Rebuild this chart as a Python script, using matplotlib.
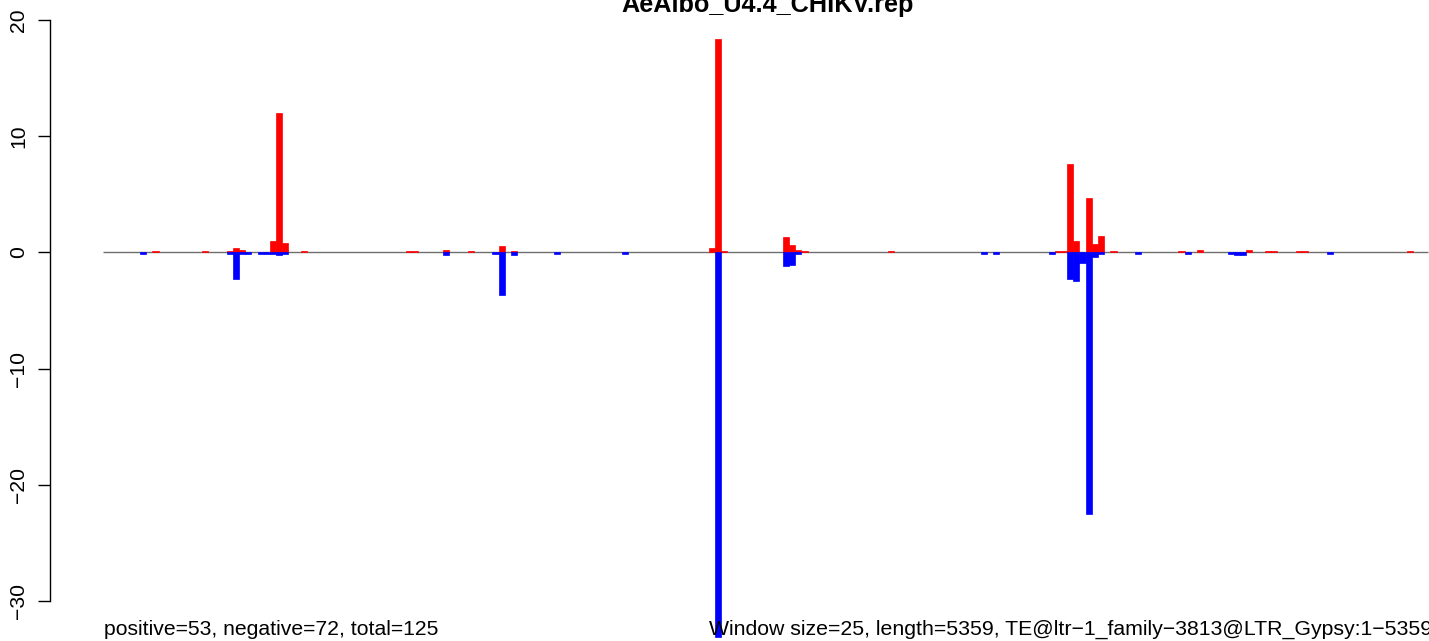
import matplotlib
matplotlib.use("Agg")
import matplotlib.pyplot as plt
import numpy as np

plt.rcParams['font.family'] = ['Liberation Sans', 'DejaVu Sans']

# ---- data ----
title = "AeAlbo_U4.4_CHIKV.rep"
window_size = 25
seq_length = 5359
n_windows = 215

pos_windows = [8, 16, 20, 21, 22, 27, 28, 29, 32, 49, 50, 55, 59, 64, 66,
               98, 99, 100, 110, 111, 112, 113, 127, 154, 155, 156, 157, 159,
               160, 161, 163, 174, 177, 185, 188, 189, 193, 194, 211]
pos_values = [0.11, 0.11, 0.15, 0.37, 0.2, 0.98, 12.0, 0.8, 0.11, 0.11, 0.11,
              0.17, 0.12, 0.52, 0.12, 0.35, 18.33, 0.1, 1.29, 0.6, 0.2, 0.1,
              0.11, 0.11, 0.15, 7.57, 0.95, 4.65, 0.69, 1.38, 0.11, 0.11, 0.17,
              0.2, 0.11, 0.11, 0.11, 0.11, 0.11]

neg_windows = [6, 20, 21, 22, 23, 25, 26, 27, 28, 29, 55, 63, 64, 66, 73, 84,
               99, 110, 111, 112, 142, 144, 153, 156, 157, 158, 159, 160, 161,
               167, 175, 182, 183, 184, 198]
neg_values = [-0.11, -0.11, -2.27, -0.11, -0.11, -0.11, -0.11, -0.11, -0.2,
              -0.11, -0.26, -0.11, -3.7, -0.2, -0.11, -0.11, -33.1, -1.18,
              -1.09, -0.1, -0.11, -0.11, -0.14, -2.3, -2.47, -0.92, -22.5,
              -0.4, -0.14, -0.11, -0.11, -0.17, -0.26, -0.26, -0.11]

yticks = [-30, -20, -10, 0, 10, 20]
footer_left = "positive=53, negative=72, total=125"
footer_right = ("Window size=25, length=5359, "
                "TE@ltr\u22121_family\u22123813@LTR_Gypsy:1\u22125359")

# ---- figure ----
W, H = 1429, 641
fig = plt.figure(figsize=(W / 100, H / 100), dpi=100)

# layout in pixels (R-like 4% padding, plot region partly outside the image)
xpad = 0.04 * seq_length
xlim = (-xpad, seq_length + xpad)
ymin = min(neg_values)
ymax = max(pos_values)
ypad = 0.04 * (ymax - ymin)
ylim = (ymin - ypad, ymax + ypad)

px_per_x = 0.2472
px_per_y = 11.62
zero_x_px = 103.0
zero_y_px = 252.4
left_px = zero_x_px - (0 - xlim[0]) * px_per_x
right_px = zero_x_px + (xlim[1]) * px_per_x
top_px = zero_y_px - ylim[1] * px_per_y
bot_px = zero_y_px - ylim[0] * px_per_y

ax = fig.add_axes([left_px / W, 1 - bot_px / H,
                   (right_px - left_px) / W, (bot_px - top_px) / H])
ax.set_xlim(*xlim)
ax.set_ylim(*ylim)
ax.patch.set_alpha(0)

pos_full = np.zeros(n_windows)
neg_full = np.zeros(n_windows)
pos_full[pos_windows] = pos_values
neg_full[neg_windows] = neg_values
starts = np.arange(n_windows) * window_size

ax.plot([0, seq_length], [0, 0], color='#6e6e6e', lw=1.0, zorder=1,
        solid_capstyle='butt')
pos_mask = pos_full != 0
neg_mask = neg_full != 0
ax.bar(starts[pos_mask], pos_full[pos_mask], width=window_size, align='edge',
       color='#ff0000', edgecolor='#ff0000', linewidth=0.5, zorder=3,
       clip_on=False)
ax.bar(starts[neg_mask], neg_full[neg_mask], width=window_size, align='edge',
       color='#0000ff', edgecolor='#0000ff', linewidth=0.5, zorder=3,
       clip_on=False)

for s in ['top', 'right', 'bottom']:
    ax.spines[s].set_visible(False)
ax.spines['left'].set_bounds(-30, 20)
ax.spines['left'].set_linewidth(1.0)
ax.set_xticks([])
ax.set_yticks(yticks)
ax.set_yticklabels([str(t).replace('-', '\u2212') for t in yticks])
ax.tick_params(axis='y', length=8.6, width=1.0, pad=7, labelsize=15.2,
               labelrotation=90)
for lab in ax.get_yticklabels():
    lab.set_va('center')

fig.text(768 / W, 1 - 12 / H, title, ha='center', va='baseline',
         fontsize=18.2, fontweight='bold')
fig.text(104 / W, 1 - 635 / H, footer_left, ha='left', va='baseline',
         fontsize=15.2, zorder=0)
fig.text(709 / W, 1 - 635 / H, footer_right, ha='left', va='baseline',
         fontsize=15.3, zorder=0)

fig.savefig("out.png", dpi=100, facecolor='white')
